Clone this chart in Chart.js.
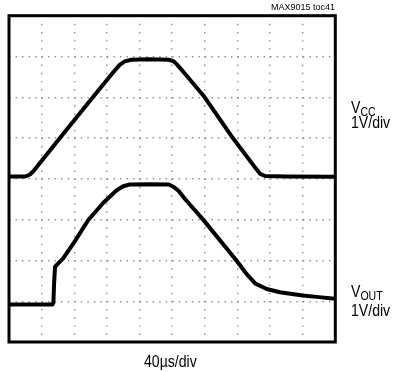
<!DOCTYPE html>
<html><head><meta charset="utf-8">
<script src="https://cdn.jsdelivr.net/npm/chart.js@4.4.0/dist/chart.umd.min.js"></script>
<style>
html,body{margin:0;padding:0;background:#fff;overflow:hidden;}
#wrap{position:relative;width:394px;height:372px;}
canvas{position:absolute;left:0;top:0;}
.lbl{position:absolute;font-family:"Liberation Sans",Arial,sans-serif;color:#000;white-space:nowrap;line-height:1;transform-origin:0 0;}
.nar{transform:scaleX(0.88);}
.sub{font-size:12px;position:relative;top:3px;}
</style></head><body>
<div id="wrap">
<canvas id="c" width="394" height="372"></canvas>
<div class="lbl" style="right:59px;top:3px;font-size:9px;">MAX9015 toc41</div>
<div class="lbl nar" style="left:351px;top:100px;font-size:16px;">V<span class="sub">CC</span></div>
<div class="lbl nar" style="left:351px;top:115px;font-size:16px;">1V/div</div>
<div class="lbl nar" style="left:351px;top:284px;font-size:16px;">V<span class="sub">OUT</span></div>
<div class="lbl nar" style="left:351px;top:303px;font-size:16px;">1V/div</div>
<div class="lbl nar" style="left:144px;top:354px;font-size:16px;">40µs/div</div>
</div>
<script>
// time in divisions (40 µs/div), levels in divisions (1 V/div)
const vccTime  = [0, 0.5, 0.58, 0.66, 0.74, 1.56, 2.57, 3.2, 3.4, 3.55, 3.75, 4.3, 4.9, 5.05, 5.15, 5.25, 6.0, 6.86, 7.55, 7.7, 7.85, 8.5, 10];
const vccLevel = [4.06, 4.06, 4.08, 4.12, 4.18, 5.0, 6.0, 6.62, 6.8, 6.88, 6.92, 6.93, 6.92, 6.88, 6.8, 6.71, 6.0, 5.0, 4.27, 4.12, 4.07, 4.06, 4.05];
const voutTime  = [0, 1.33, 1.36, 1.38, 1.41, 1.5, 1.66, 2.0, 2.43, 2.9, 3.3, 3.5, 3.7, 4.3, 4.9, 5.05, 5.2, 5.4, 5.95, 6.97, 7.3, 7.55, 7.9, 8.3, 9.0, 9.5, 10];
const voutLevel = [0.92, 0.92, 0.96, 1.4, 1.84, 1.92, 2.05, 2.45, 2.99, 3.42, 3.72, 3.82, 3.86, 3.87, 3.86, 3.8, 3.7, 3.5, 3.0, 2.0, 1.65, 1.43, 1.3, 1.22, 1.14, 1.1, 1.06];
const xDivs = 10, yDivs = 8;

const toPts = (xs, ys) => xs.map((x, i) => ({x, y: ys[i]}));

const frame = {
  id: 'frame',
  afterDatasetsDraw(chart) {
    const {ctx, chartArea: a} = chart;
    ctx.save();
    ctx.strokeStyle = '#000';
    ctx.lineWidth = 3;
    ctx.strokeRect(a.left, a.top, a.right - a.left, a.bottom - a.top);
    ctx.restore();
  }
};

const gridCommon = {color: '#8c8c8c', lineWidth: 1.4, drawTicks: false};

new Chart(document.getElementById('c'), {
  type: 'line',
  data: {
    datasets: [
      {label: 'VCC', data: toPts(vccTime, vccLevel), borderColor: '#000', borderWidth: 4, pointRadius: 0, tension: 0, borderJoinStyle: 'round', borderCapStyle: 'round'},
      {label: 'VOUT', data: toPts(voutTime, voutLevel), borderColor: '#000', borderWidth: 4, pointRadius: 0, tension: 0, borderJoinStyle: 'round', borderCapStyle: 'round'}
    ]
  },
  options: {
    responsive: false,
    animation: false,
    layout: {padding: {left: 9, top: 15.7, right: 58.7, bottom: 30}},
    plugins: {legend: {display: false}, tooltip: {enabled: false}},
    scales: {
      x: {type: 'linear', min: 0, max: xDivs, ticks: {display: false, stepSize: 1},
          grid: Object.assign({}, gridCommon), border: {display: false, dash: [1.4, 6.75]}},
      y: {type: 'linear', min: 0, max: yDivs, ticks: {display: false, stepSize: 1},
          grid: Object.assign({}, gridCommon), border: {display: false, dash: [1.4, 5.13]}}
    }
  },
  plugins: [frame]
});
</script>
</body></html>
